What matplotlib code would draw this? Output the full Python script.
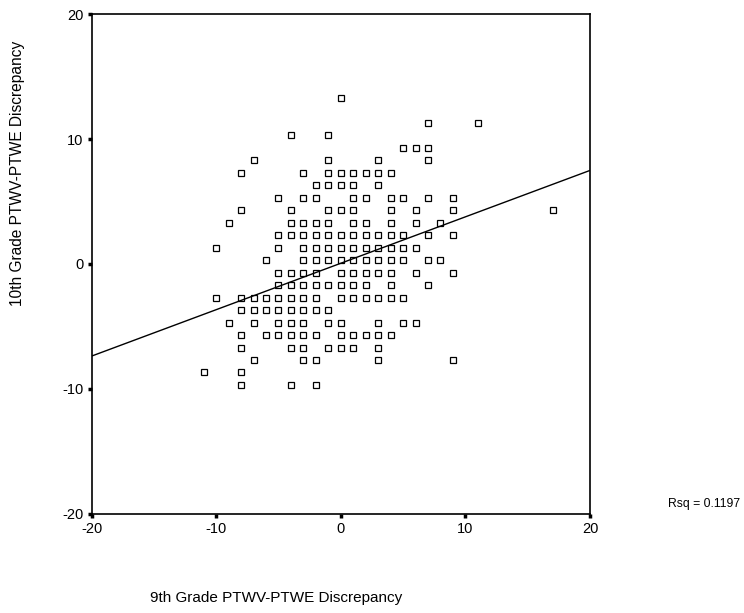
import numpy as np
import matplotlib
matplotlib.use("Agg")
from matplotlib import pyplot as plt

plt.rcParams['font.family'] = ['Liberation Sans', 'DejaVu Sans']
plt.rcParams['axes.unicode_minus'] = False

# 9th grade discrepancy (x), one line per row of the scatter, top to bottom
grade9 = [
    0,
    7, 11,
    -4, -1,
    5, 6, 7,
    -7, -1, 3, 7,
    -8, -3, -1, 0, 1, 2, 3, 4,
    -2, -1, 0, 1, 3,
    -5, -3, -2, 1, 2, 4, 5, 7, 9,
    -8, -4, -1, 0, 1, 4, 6, 9, 17,
    -9, -4, -3, -2, -1, 1, 2, 4, 6, 8,
    -5, -4, -3, -2, -1, 0, 1, 2, 3, 4, 5, 7, 9,
    -10, -5, -3, -2, -1, 0, 1, 2, 3, 4, 5, 6,
    -6, -3, -2, -1, 0, 1, 2, 3, 4, 5, 7, 8,
    -5, -4, -3, -2, 0, 1, 2, 3, 4, 6, 9,
    -5, -4, -3, -2, -1, 0, 1, 2, 4, 7,
    -10, -8, -7, -6, -5, -4, -3, -2, 0, 1, 2, 3, 4, 5,
    -8, -7, -6, -5, -4, -3, -2, -1,
    -9, -7, -5, -4, -3, -1, 0, 3, 5, 6,
    -8, -6, -5, -4, -3, -2, 0, 1, 2, 3, 4,
    -8, -4, -3, -1, 0, 1, 3,
    -7, -3, -2, 3, 9,
    -11, -8,
    -8, -4, -2,
]

# 10th grade discrepancy (y), same order
grade10 = [
    13.3,
    11.3, 11.3,
    10.3, 10.3,
    9.3, 9.3, 9.3,
    8.3, 8.3, 8.3, 8.3,
    7.3, 7.3, 7.3, 7.3, 7.3, 7.3, 7.3, 7.3,
    6.3, 6.3, 6.3, 6.3, 6.3,
    5.3, 5.3, 5.3, 5.3, 5.3, 5.3, 5.3, 5.3, 5.3,
    4.3, 4.3, 4.3, 4.3, 4.3, 4.3, 4.3, 4.3, 4.3,
    3.3, 3.3, 3.3, 3.3, 3.3, 3.3, 3.3, 3.3, 3.3, 3.3,
    2.3, 2.3, 2.3, 2.3, 2.3, 2.3, 2.3, 2.3, 2.3, 2.3, 2.3, 2.3, 2.3,
    1.3, 1.3, 1.3, 1.3, 1.3, 1.3, 1.3, 1.3, 1.3, 1.3, 1.3, 1.3,
    0.3, 0.3, 0.3, 0.3, 0.3, 0.3, 0.3, 0.3, 0.3, 0.3, 0.3, 0.3,
    -0.7, -0.7, -0.7, -0.7, -0.7, -0.7, -0.7, -0.7, -0.7, -0.7, -0.7,
    -1.7, -1.7, -1.7, -1.7, -1.7, -1.7, -1.7, -1.7, -1.7, -1.7,
    -2.7, -2.7, -2.7, -2.7, -2.7, -2.7, -2.7, -2.7, -2.7, -2.7, -2.7, -2.7, -2.7, -2.7,
    -3.7, -3.7, -3.7, -3.7, -3.7, -3.7, -3.7, -3.7,
    -4.7, -4.7, -4.7, -4.7, -4.7, -4.7, -4.7, -4.7, -4.7, -4.7,
    -5.7, -5.7, -5.7, -5.7, -5.7, -5.7, -5.7, -5.7, -5.7, -5.7, -5.7,
    -6.7, -6.7, -6.7, -6.7, -6.7, -6.7, -6.7,
    -7.7, -7.7, -7.7, -7.7, -7.7,
    -8.7, -8.7,
    -9.7, -9.7, -9.7,
]

# fit line as shown in the chart (overlapping points hide part of the data)
fit_slope = 0.372
fit_intercept = 0.05

ticks = [-20, -10, 0, 10, 20]
rsq_text = "Rsq = 0.1197"

x = np.array(grade9, dtype=float)
y = np.array(grade10, dtype=float)

fig = plt.figure(figsize=(7.44, 6.13), dpi=100)
ax = fig.add_axes([91.5/744, 1 - 513.5/613, 498.5/744, 499.2/613])

ax.plot(x, y, linestyle='none', marker='s', markersize=4.3,
        markerfacecolor='white', markeredgecolor='black', markeredgewidth=0.9)

xl = np.array([-20, 20])
ax.plot(xl, fit_slope*xl + fit_intercept, color='black', linewidth=1.0)

ax.set_xlim(-20, 20)
ax.set_ylim(-20, 20)
ax.set_xticks(ticks)
ax.set_yticks(ticks)
ax.tick_params(direction='out', length=3, width=2.5, labelsize=10.5, pad=3)
for s in ax.spines.values():
    s.set_linewidth(1.2)

fig.text(150/744, 1 - 598/613, "9th Grade PTWV-PTWE Discrepancy",
         fontsize=11, ha='left', va='center')
fig.text(18/744, 1 - 41/613, "10th Grade PTWV-PTWE Discrepancy",
         fontsize=11.2, rotation=90, ha='center', va='top')
fig.text(668/744, 1 - 504/613, rsq_text, fontsize=8.8, ha='left', va='center')

fig.savefig("out.png", dpi=100)
